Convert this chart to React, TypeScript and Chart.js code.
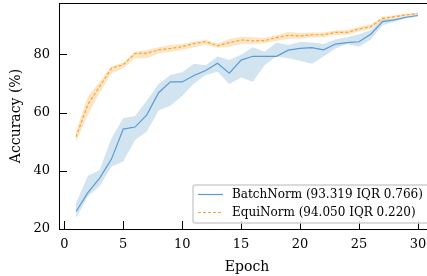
import React, { useEffect, useRef } from "react";
import { Chart, registerables } from "chart.js";

Chart.register(...registerables);

const epochs = [1, 2, 3, 4, 5, 6, 7, 8, 9, 10, 11, 12, 13, 14, 15, 16, 17, 18, 19, 20, 21, 22, 23, 24, 25, 26, 27, 28, 29, 30];

const bnMean = [26.0, 32.5, 37.5, 44.0, 54.3, 55.0, 59.2, 66.8, 70.5, 70.5, 72.7, 74.4, 76.9, 73.5, 78.0, 79.3, 79.3, 79.3, 81.4, 82.0, 82.3, 81.5, 83.5, 84.0, 84.3, 86.9, 91.2, 91.8, 92.7, 93.3];
const bnLower = [23.8, 31.2, 34.8, 41.5, 43.2, 50.6, 53.5, 60.7, 62.3, 65.7, 70.0, 72.9, 74.0, 69.8, 72.0, 70.6, 76.3, 79.2, 78.6, 77.8, 76.7, 79.2, 82.0, 83.5, 82.6, 85.1, 90.0, 91.2, 92.3, 93.0];
const bnUpper = [28.9, 38.3, 40.3, 51.2, 58.0, 58.8, 64.1, 69.8, 72.9, 73.8, 76.7, 76.2, 79.2, 78.0, 79.8, 82.4, 80.9, 84.0, 83.2, 84.2, 84.0, 83.5, 85.1, 85.8, 86.9, 88.3, 92.0, 92.3, 93.1, 93.7];

const enMean = [51.7, 62.8, 68.9, 75.2, 76.4, 80.3, 80.4, 81.5, 82.0, 82.6, 83.7, 84.3, 82.9, 84.0, 84.9, 84.6, 84.7, 85.7, 86.5, 86.3, 86.7, 86.7, 87.5, 87.5, 88.7, 89.5, 92.3, 92.9, 93.5, 94.0];
const enLower = [50.0, 59.2, 66.8, 73.5, 75.2, 78.6, 78.6, 80.3, 80.9, 81.5, 82.4, 83.3, 82.2, 82.6, 83.5, 83.6, 83.8, 84.6, 85.3, 85.3, 85.8, 85.8, 86.6, 86.7, 87.8, 88.7, 91.6, 92.4, 93.1, 93.7];
const enUpper = [53.5, 65.5, 70.6, 76.0, 77.1, 80.9, 81.5, 82.4, 83.2, 83.5, 84.3, 85.0, 83.6, 85.2, 86.0, 85.8, 85.6, 86.6, 87.6, 87.3, 87.5, 87.5, 88.2, 88.3, 89.4, 90.3, 92.9, 93.4, 93.9, 94.3];

const xTicks = [0, 5, 10, 15, 20, 25, 30];
const yTicks = [20, 40, 60, 80];

const bnLabel = "BatchNorm (93.319 IQR 0.766)";
const enLabel = "EquiNorm (94.050 IQR 0.220)";

const FONT = "DejaVu Serif";
const BLUE = "#5a9bd4";
const ORANGE = "#f5a43a";
const BLUE_BAND = "rgba(31,119,180,0.2)";
const ORANGE_BAND = "rgba(245,160,40,0.28)";

const pts = (arr: number[]) => epochs.map((e, i) => ({ x: e, y: arr[i] }));

const framePlugin = {
  id: "frameTicks",
  afterDraw(chart: any) {
    const { ctx, chartArea } = chart;
    const xs = chart.scales.x;
    const ys = chart.scales.y;
    ctx.save();
    ctx.strokeStyle = "#000";
    ctx.lineWidth = 1;
    ctx.beginPath();
    ctx.moveTo(chartArea.left, chartArea.top + 0.5);
    ctx.lineTo(chartArea.right, chartArea.top + 0.5);
    ctx.moveTo(chartArea.right - 0.5, chartArea.top);
    ctx.lineTo(chartArea.right - 0.5, chartArea.bottom);
    xTicks.forEach((v) => {
      const px = Math.round(xs.getPixelForValue(v)) + 0.5;
      ctx.moveTo(px, chartArea.bottom);
      ctx.lineTo(px, chartArea.bottom - 8);
    });
    yTicks.forEach((v) => {
      const py = Math.round(ys.getPixelForValue(v)) + 0.5;
      ctx.moveTo(chartArea.left, py);
      ctx.lineTo(chartArea.left + 8, py);
      ctx.moveTo(chartArea.right, py);
      ctx.lineTo(chartArea.right - 8, py);
    });
    ctx.stroke();
    ctx.restore();
  },
};

const legendPlugin = {
  id: "innerLegend",
  afterDraw(chart: any) {
    const { ctx, chartArea } = chart;
    const w = 238;
    const h = 38;
    const x0 = chartArea.right - 4 - w;
    const y0 = chartArea.bottom - 6 - h;
    ctx.save();
    ctx.beginPath();
    const r = 3;
    ctx.moveTo(x0 + r, y0);
    ctx.lineTo(x0 + w - r, y0);
    ctx.arcTo(x0 + w, y0, x0 + w, y0 + r, r);
    ctx.lineTo(x0 + w, y0 + h - r);
    ctx.arcTo(x0 + w, y0 + h, x0 + w - r, y0 + h, r);
    ctx.lineTo(x0 + r, y0 + h);
    ctx.arcTo(x0, y0 + h, x0, y0 + h - r, r);
    ctx.lineTo(x0, y0 + r);
    ctx.arcTo(x0, y0, x0 + r, y0, r);
    ctx.closePath();
    ctx.fillStyle = "rgba(255,255,255,0.85)";
    ctx.fill();
    ctx.strokeStyle = "#cfcfcf";
    ctx.lineWidth = 1.5;
    ctx.stroke();

    const rows = [
      { label: bnLabel, color: BLUE, dash: [] as number[] },
      { label: enLabel, color: ORANGE, dash: [3, 2] },
    ];
    ctx.font = `12px "${FONT}"`;
    ctx.textBaseline = "middle";
    ctx.textAlign = "left";
    rows.forEach((row, i) => {
      const cy = y0 + 9.5 + i * 18;
      ctx.beginPath();
      ctx.setLineDash(row.dash);
      ctx.strokeStyle = row.color;
      ctx.lineWidth = 1.2;
      ctx.moveTo(x0 + 5, cy);
      ctx.lineTo(x0 + 30, cy);
      ctx.stroke();
      ctx.setLineDash([]);
      ctx.fillStyle = "#000";
      ctx.fillText(row.label, x0 + 39, cy);
    });
    ctx.restore();
  },
};

export default function App() {
  const ref = useRef<HTMLCanvasElement | null>(null);

  useEffect(() => {
    if (!ref.current) return;
    const band = (data: number[], color: string, fill: any, order: number) => ({
      data: pts(data),
      borderWidth: 0,
      borderColor: "rgba(0,0,0,0)",
      backgroundColor: color,
      pointRadius: 0,
      fill,
      order,
      tension: 0,
    });
    const chart = new Chart(ref.current, {
      type: "line",
      data: {
        datasets: [
          { label: enLabel, data: pts(enMean), borderColor: ORANGE, borderWidth: 1.2, borderDash: [3, 2], pointRadius: 0, fill: false, order: 0, tension: 0 },
          { label: bnLabel, data: pts(bnMean), borderColor: BLUE, borderWidth: 1.2, pointRadius: 0, fill: false, order: 1, tension: 0 },
          band(enLower, "rgba(0,0,0,0)", false, 2),
          band(enUpper, ORANGE_BAND, "-1", 2),
          band(bnLower, "rgba(0,0,0,0)", false, 3),
          band(bnUpper, BLUE_BAND, "-1", 3),
        ] as any,
      },
      options: {
        responsive: false,
        animation: false,
        devicePixelRatio: 1,
        layout: { padding: { top: 3, right: 1, left: 0, bottom: 0 } },
        plugins: {
          legend: { display: false },
          tooltip: { enabled: false },
        },
        scales: {
          x: {
            type: "linear",
            min: -0.45,
            max: 31.45,
            afterBuildTicks: (s: any) => {
              s.ticks = xTicks.map((v) => ({ value: v }));
            },
            afterFit: (s: any) => {
              s.height = 47;
              s.paddingLeft = 0;
              s.paddingRight = 0;
            },
            grid: { display: false, drawTicks: false },
            border: { display: true, color: "#000", width: 1 },
            ticks: { color: "#000", font: { family: FONT, size: 13 }, padding: 8, maxRotation: 0, autoSkip: false },
            title: { display: true, text: "Epoch", color: "#000", font: { family: FONT, size: 14 }, padding: { top: 0, bottom: 0 } },
          },
          y: {
            type: "linear",
            min: 20,
            max: 97.6,
            afterBuildTicks: (s: any) => {
              s.ticks = yTicks.map((v) => ({ value: v }));
            },
            afterFit: (s: any) => {
              s.width = 59;
              s.paddingTop = 0;
              s.paddingBottom = 0;
            },
            grid: { display: false, drawTicks: false },
            border: { display: true, color: "#000", width: 1 },
            ticks: { color: "#000", font: { family: FONT, size: 13 }, padding: 9, autoSkip: false },
            title: { display: true, text: "Accuracy (%)", color: "#000", font: { family: FONT, size: 14 }, padding: { top: 8, bottom: 0 } },
          },
        },
      } as any,
      plugins: [framePlugin, legendPlugin],
    });
    return () => chart.destroy();
  }, []);

  return (
    <div style={{ position: "fixed", left: 0, top: 0, width: 427, height: 276, overflow: "hidden", background: "#fff" }}>
      <canvas ref={ref} width={436} height={276} style={{ display: "block" }} />
    </div>
  );
}
